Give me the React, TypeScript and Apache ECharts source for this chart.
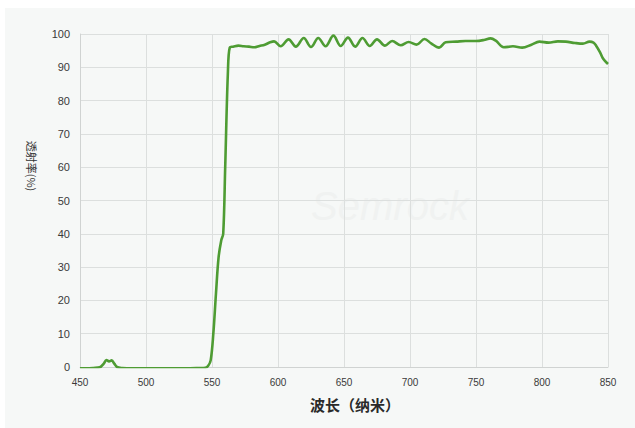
import React, { useEffect, useRef } from "react";
import * as echarts from "echarts";

const wavelengths: number[] = [
  450, 455, 460, 465, 468, 470, 472, 474, 476, 478, 482, 490, 500, 510, 520, 530, 540, 545, 547, 549,
  551, 553, 555, 557, 558.5, 560, 562, 563.5, 566, 570, 574, 578, 582, 586, 590, 594, 597, 602, 608,
  613.5, 619.5, 625, 630.5, 636, 642, 647.5, 653, 658.5, 664, 669.5, 675, 681, 686.5, 693, 699, 705,
  711, 716, 722, 727, 735, 742, 750, 756, 761, 765, 771, 778, 785, 792, 798, 805, 812, 818, 825, 831,
  836, 839, 841, 844, 846, 848, 850,
];

const transmission: number[] = [
  -0.4, -0.4, -0.3, -0.1, 1, 2.1, 1.7, 2.0, 1, 0, -0.3, -0.4, -0.4, -0.4, -0.4, -0.4, -0.3, -0.2, 0.3, 2,
  10, 22, 33, 38, 40, 60, 88, 96, 96.2, 96.5, 96.3, 96.2, 96.0, 96.4, 96.8, 97.5, 97.8, 96.3, 98.4,
  96.2, 98.8, 96.1, 98.8, 96.3, 99.5, 96.4, 98.9, 96.2, 98.8, 96.4, 98.4, 96.5, 97.9, 96.6, 97.6, 96.8,
  98.5, 97.2, 95.9, 97.5, 97.7, 97.9, 97.9, 98.2, 98.7, 98.0, 96.0, 96.3, 95.9, 96.8, 97.7, 97.4, 97.8,
  97.7, 97.3, 97.1, 97.7, 97.4, 96.5, 94.5, 92.8, 91.8, 91,
];

const xTicks = { min: 450, max: 850, interval: 50 };
const yTicks = { min: 0, max: 100, interval: 10 };

const xAxisTitle = "波长（纳米）";
const yAxisTitle = "透射率(%)";
const watermark = "Semrock";

export default function App() {
  const ref = useRef<HTMLDivElement>(null);

  useEffect(() => {
    if (!ref.current) return;
    const chart = echarts.init(ref.current, null, { renderer: "svg" });
    const data = wavelengths.map((w, i) => [w, transmission[i]]);
    chart.setOption({
      animation: false,
      backgroundColor: "#f6f8f7",
      grid: { left: 75, right: 27, top: 26, bottom: 61 },
      xAxis: {
        type: "value",
        min: xTicks.min,
        max: xTicks.max,
        interval: xTicks.interval,
        name: xAxisTitle,
        nameLocation: "middle",
        nameGap: 30,
        nameTextStyle: {
          fontSize: 15,
          fontWeight: "bold",
          color: "#2a2a2a",
          fontFamily: "Noto Sans CJK SC",
          padding: [0, 0, 0, 22],
        },
        axisLine: { show: true, lineStyle: { color: "#d0d3d2", width: 1 } },
        axisTick: { show: false },
        axisLabel: { color: "#3a3a3a", fontSize: 10, margin: 10, fontFamily: "Liberation Sans" },
        splitLine: { show: true, lineStyle: { color: "#dcdfde", width: 1 } },
      },
      yAxis: {
        type: "value",
        min: yTicks.min,
        max: yTicks.max,
        interval: yTicks.interval,
        axisLine: { show: true, lineStyle: { color: "#d0d3d2", width: 1 } },
        axisTick: { show: false },
        axisLabel: { color: "#3a3a3a", fontSize: 11, margin: 10, fontFamily: "Liberation Sans" },
        splitLine: { show: true, lineStyle: { color: "#dcdfde", width: 1 } },
      },
      graphic: [
        {
          type: "text",
          x: 27,
          y: 158,
          rotation: -Math.PI / 2,
          style: {
            text: yAxisTitle,
            fontSize: 11,
            fill: "#333",
            fontFamily: "Noto Sans CJK SC",
            textAlign: "center",
            textVerticalAlign: "middle",
          },
        },
        {
          type: "text",
          x: 385,
          y: 198,
          z: 0,
          style: {
            text: watermark,
            fontSize: 40,
            fontStyle: "italic",
            fill: "#f0f2f1",
            fontFamily: "Liberation Sans",
            textAlign: "center",
            textVerticalAlign: "middle",
          },
        },
      ],
      series: [
        {
          type: "line",
          data,
          showSymbol: false,
          smooth: 0.35,
          lineStyle: { color: "#4e9c33", width: 2.6 },
          z: 5,
        },
      ],
    });
    return () => chart.dispose();
  }, []);

  return (
    <div style={{ position: "absolute", left: 0, top: 0, width: 635, height: 428, background: "#ffffff" }}>
      <div ref={ref} style={{ position: "absolute", left: 5, top: 8, width: 630, height: 420 }} />
    </div>
  );
}
